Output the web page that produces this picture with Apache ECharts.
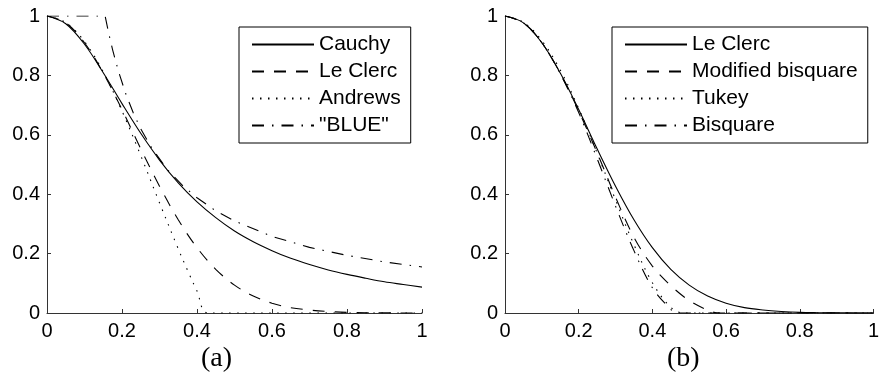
<!DOCTYPE html>
<html>
<head>
<meta charset="utf-8">
<script src="https://cdn.jsdelivr.net/npm/echarts@6.0.0/dist/echarts.min.js"></script>
<style>
  html, body { margin: 0; padding: 0; background: #fff; }
  #chart { width: 882px; height: 381px; }
</style>
</head>
<body>
<div id="chart"></div>
<script>
// shared x grid (0 .. 1 step 0.05)
const xGrid = [0, 0.05, 0.1, 0.15, 0.2, 0.25, 0.3, 0.35, 0.4, 0.45, 0.5,
  0.55, 0.6, 0.65, 0.7, 0.75, 0.8, 0.85, 0.9, 0.95, 1];

// panel (a)
const cauchyY = [1, 0.974, 0.905, 0.809, 0.705, 0.605, 0.515, 0.438, 0.374, 0.321, 0.276,
  0.240, 0.210, 0.184, 0.163, 0.145, 0.130, 0.117, 0.105, 0.096, 0.087];
const leClercY = [1, 0.977, 0.910, 0.808, 0.685, 0.553, 0.427, 0.314, 0.220, 0.147, 0.094,
  0.057, 0.033, 0.018, 0.010, 0.005, 0.002, 0.001, 0.0005, 0.0002, 0.0001];
const andrewsX = [0, 0.05, 0.1, 0.15, 0.2, 0.25, 0.3, 0.35, 0.375, 0.4, 0.43, 1];
const andrewsY = [1, 0.978, 0.914, 0.812, 0.680, 0.530, 0.371, 0.216, 0.143, 0.074, 0, 0];
const blueX = [0, 0.155, 0.165, 0.175, 0.19, 0.21, 0.23, 0.25, 0.28, 0.32, 0.36, 0.4,
  0.45, 0.5, 0.6, 0.7, 0.8, 0.9, 1];
const blueY = [1, 1, 0.939, 0.886, 0.816, 0.738, 0.674, 0.62, 0.554, 0.484, 0.431, 0.388,
  0.344, 0.31, 0.258, 0.221, 0.194, 0.172, 0.155];

// panel (b)
const modBisqX = [0, 0.05, 0.1, 0.15, 0.2, 0.25, 0.3, 0.35, 0.4, 0.45, 0.5, 0.55, 0.58, 1];
const modBisqY = [1, 0.977, 0.910, 0.807, 0.680, 0.540, 0.390, 0.255, 0.158, 0.092, 0.042, 0.010, 0, 0];
const tukeyX = [0, 0.05, 0.1, 0.15, 0.2, 0.25, 0.3, 0.35, 0.4, 0.45, 0.485, 1];
const tukeyY = [1, 0.979, 0.917, 0.818, 0.689, 0.539, 0.381, 0.230, 0.102, 0.019, 0, 0];
const bisqX = [0, 0.05, 0.1, 0.15, 0.2, 0.25, 0.3, 0.35, 0.4, 0.45, 0.465, 1];
const bisqY = [1, 0.977, 0.910, 0.805, 0.675, 0.520, 0.360, 0.210, 0.085, 0.012, 0, 0];

const pairs = (xs, ys) => xs.map((x, i) => [x, ys[i]]);

const DASHED = [12, 10];
const DOTTED = [1.5, 6.5];
const DASHDOT = [12, 8, 1.5, 8];
const FONT = "'Liberation Sans', Arial, sans-serif";

function line(name, data, type, panel, smooth) {
  return {
    name: name,
    type: "line",
    xAxisIndex: panel,
    yAxisIndex: panel,
    data: data,
    symbol: "none",
    smooth: smooth === false ? false : 0.35,
    lineStyle: { color: "#000", width: 1.1, type: type },
    itemStyle: { color: "#000" },
    emphasis: { disabled: true },
    animation: false,
  };
}

function axis(kind, idx) {
  return {
    type: "value",
    gridIndex: idx,
    min: 0,
    max: 1,
    interval: 0.2,
    splitLine: { show: false },
    axisLine: { lineStyle: { color: "#333", width: 1 } },
    axisTick: { inside: true, length: 4, lineStyle: { color: "#333" } },
    axisLabel: {
      color: "#000",
      fontSize: 20,
      fontFamily: FONT,
      margin: kind === "x" ? 8 : 7,
    },
  };
}

function legend(names, left) {
  return {
    data: names,
    orient: "vertical",
    left: left,
    top: 27,
    padding: [7, 10, 7, 12],
    itemGap: 6,
    itemWidth: 62,
    itemHeight: 14,
    selectedMode: false,
    borderColor: "#000",
    borderWidth: 1,
    backgroundColor: "#fff",
    itemStyle: { opacity: 0 },
    formatter: (n) => n.trim(),
    textStyle: { color: "#000", fontSize: 21, fontFamily: FONT },
  };
}

const chart = echarts.init(document.getElementById("chart"), null, { renderer: "canvas" });

chart.setOption({
  animation: false,
  backgroundColor: "#fff",
  grid: [
    { left: 47, top: 16, width: 375, height: 297 },
    { left: 505, top: 16, width: 375, height: 297 },
  ],
  xAxis: [axis("x", 0), axis("x", 1)],
  yAxis: [axis("y", 0), axis("y", 1)],
  legend: [
    legend(["Cauchy", "Le Clerc", "Andrews", "\"BLUE\""], 239),
    legend(["Le Clerc ", "Modified bisquare", "Tukey", "Bisquare"], 612),
  ],
  graphic: [
    { type: "text", left: 201, top: 345, style: { text: "(a)", font: "28px 'Liberation Serif', serif", fill: "#000" } },
    { type: "text", left: 667, top: 345, style: { text: "(b)", font: "28px 'Liberation Serif', serif", fill: "#000" } },
  ],
  series: [
    line("Cauchy", pairs(xGrid, cauchyY), "solid", 0),
    line("Le Clerc", pairs(xGrid, leClercY), DASHED, 0),
    line("Andrews", pairs(andrewsX, andrewsY), DOTTED, 0),
    line("\"BLUE\"", pairs(blueX, blueY), DASHDOT, 0, false),
    line("Le Clerc ", pairs(xGrid, leClercY), "solid", 1),
    line("Modified bisquare", pairs(modBisqX, modBisqY), DASHED, 1),
    line("Tukey", pairs(tukeyX, tukeyY), DOTTED, 1),
    line("Bisquare", pairs(bisqX, bisqY), DASHDOT, 1),
  ],
});
</script>
</body>
</html>
